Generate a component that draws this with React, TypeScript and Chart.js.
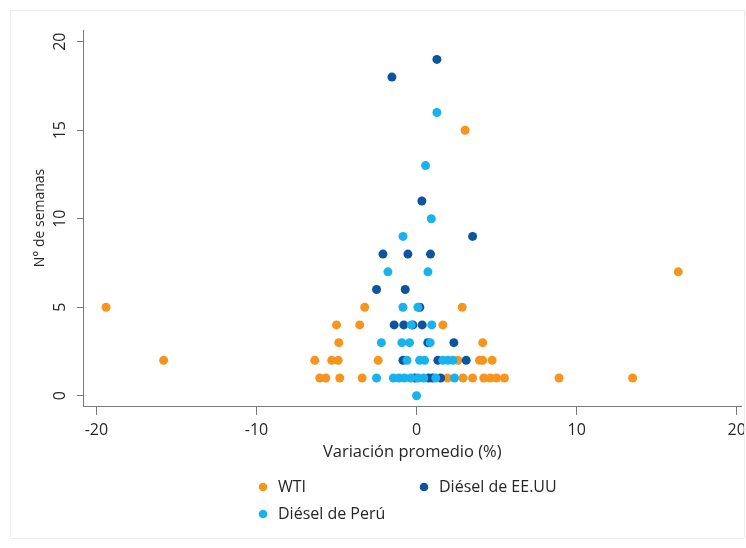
import React, { useEffect, useRef } from "react";
import { Chart, registerables } from "chart.js";

Chart.register(...registerables);

const FONT = "'Open Sans', 'DejaVu Sans', sans-serif";
const TEXT_COLOR = "#262626";
const AXIS_COLOR = "#7a7a7a";

const seriesNames = ["WTI", "Diésel de EE.UU", "Diésel de Perú"];
const seriesColors = ["#F7941D", "#0B559F", "#18B2EE"];

// WTI
const wtiChange = [-19.4, -15.8, -6.36, -6.05, -5.67, -5.3, -5.0, -4.9, -4.86, -4.8, -3.55, -3.4, -3.24, -2.4, 1.64, 1.93, 2.58, 2.85, 2.9, 3.03, 3.5, 3.93, 4.13, 4.13, 4.2, 4.6, 4.72, 5.0, 5.49, 8.9, 13.5, 16.35];
const wtiWeeks = [5, 2, 2, 1, 1, 2, 4, 2, 3, 1, 4, 1, 5, 2, 4, 1, 2, 5, 1, 15, 1, 2, 2, 3, 1, 1, 2, 1, 1, 1, 1, 7];

// Diésel de EE.UU
const usChange = [1.27, -1.54, 0.33, 3.5, -2.1, -0.54, 0.87, -2.5, -0.71, 0.2, -1.4, -0.8, -0.23, 0.35, 0.7, 2.33, -0.85, 1.33, 3.1, -0.1, 0.75, 1.0, 1.5];
const usWeeks = [19, 18, 11, 9, 8, 8, 8, 6, 6, 5, 4, 4, 4, 4, 3, 3, 2, 2, 2, 1, 1, 1, 1];

// Diésel de Perú
const peChange = [1.27, 0.56, 0.92, -0.85, -1.79, 0.71, -0.85, 0.08, -0.33, 0.95, -2.2, -0.92, -0.44, 0.85, -0.6, 0.19, 0.5, 1.64, 1.95, 2.27, -2.5, -1.45, -1.1, -0.75, -0.35, 0.1, 0.45, 1.2, 2.37, 0];
const peWeeks = [16, 13, 10, 9, 7, 7, 5, 5, 4, 4, 3, 3, 3, 3, 2, 2, 2, 2, 2, 2, 1, 1, 1, 1, 1, 1, 1, 1, 1, 0];

const xTicks = [-20, -10, 0, 10, 20];
const yTicks = [0, 5, 10, 15, 20];

const toPoints = (xs: number[], ys: number[]) => xs.map((x, i) => ({ x, y: ys[i] }));

const customPlugin = {
  id: "customDecor",
  afterDraw(chart: any) {
    const { ctx } = chart;
    const yScale = chart.scales.y;
    ctx.save();
    // faint outer frame
    ctx.strokeStyle = "#ececec";
    ctx.lineWidth = 1;
    ctx.strokeRect(10.5, 10.5, 734, 528);
    // rotated y tick labels
    ctx.fillStyle = TEXT_COLOR;
    ctx.font = `16px ${FONT}`;
    ctx.textAlign = "center";
    ctx.textBaseline = "middle";
    yTicks.forEach((v) => {
      const py = yScale.getPixelForValue(v);
      ctx.save();
      ctx.translate(60, py);
      ctx.rotate(-Math.PI / 2);
      ctx.fillText(String(v), 0, 0);
      ctx.restore();
    });
    // legend
    const legendPos = [
      { x: 263, y: 487 },
      { x: 424, y: 487 },
      { x: 263, y: 514 },
    ];
    ctx.textAlign = "left";
    ctx.font = `16px ${FONT}`;
    seriesNames.forEach((name, i) => {
      const p = legendPos[i];
      ctx.beginPath();
      ctx.fillStyle = seriesColors[i];
      ctx.arc(p.x, p.y, 4.3, 0, Math.PI * 2);
      ctx.fill();
      ctx.fillStyle = TEXT_COLOR;
      ctx.fillText(name, p.x + 15, p.y);
    });
    ctx.restore();
  },
};

export default function App() {
  const ref = useRef<HTMLCanvasElement | null>(null);

  useEffect(() => {
    document.body.style.margin = "0";
    const canvas = ref.current;
    if (!canvas) return;
    const mk = (i: number, xs: number[], ys: number[], order: number) => ({
      label: seriesNames[i],
      data: toPoints(xs, ys),
      backgroundColor: seriesColors[i],
      borderColor: seriesColors[i],
      borderWidth: 0,
      pointRadius: 4.5,
      pointHoverRadius: 4.5,
      order,
    });
    const chart = new Chart(canvas, {
      type: "scatter",
      data: {
        datasets: [
          mk(0, wtiChange, wtiWeeks, 2),
          mk(1, usChange, usWeeks, 1),
          mk(2, peChange, peWeeks, 0),
        ],
      },
      options: {
        responsive: false,
        animation: false,
        layout: { padding: { left: 28, top: 30, right: 3, bottom: 82 } },
        plugins: {
          legend: { display: false },
          tooltip: { enabled: false },
        },
        scales: {
          x: {
            type: "linear",
            min: -20.84,
            max: 20.3,
            afterBuildTicks: (s: any) => {
              s.ticks = xTicks.map((v) => ({ value: v }));
            },
            afterFit: (s: any) => {
              s.height = 60;
              s.paddingLeft = 0;
              s.paddingRight = 0;
            },
            grid: {
              drawOnChartArea: false,
              drawTicks: true,
              tickLength: 9,
              color: AXIS_COLOR,
            },
            border: { color: AXIS_COLOR, width: 1 },
            ticks: {
              padding: 6,
              color: TEXT_COLOR,
              font: { family: FONT, size: 16 },
              maxRotation: 0,
              minRotation: 0,
            },
            title: {
              display: true,
              text: "Variación promedio (%)",
              color: TEXT_COLOR,
              font: { family: FONT, size: 16.5 },
              padding: { top: 4, bottom: 4 },
            },
          },
          y: {
            type: "linear",
            min: -0.58,
            max: 20.66,
            afterBuildTicks: (s: any) => {
              s.ticks = yTicks.map((v) => ({ value: v }));
            },
            afterFit: (s: any) => {
              s.width = 55;
              s.paddingTop = 0;
              s.paddingBottom = 0;
            },
            grid: {
              drawOnChartArea: false,
              drawTicks: true,
              tickLength: 6,
              color: AXIS_COLOR,
            },
            border: { color: AXIS_COLOR, width: 1 },
            ticks: { display: false },
            title: {
              display: true,
              text: "N° de semanas",
              color: TEXT_COLOR,
              font: { family: FONT, size: 14 },
              padding: { top: 4, bottom: 4 },
            },
          },
        },
      },
      plugins: [customPlugin],
    } as any);
    return () => chart.destroy();
  }, []);

  return (
    <div style={{ width: 746, height: 548 }}>
      <canvas ref={ref} width={746} height={548} style={{ display: "block" }} />
    </div>
  );
}
